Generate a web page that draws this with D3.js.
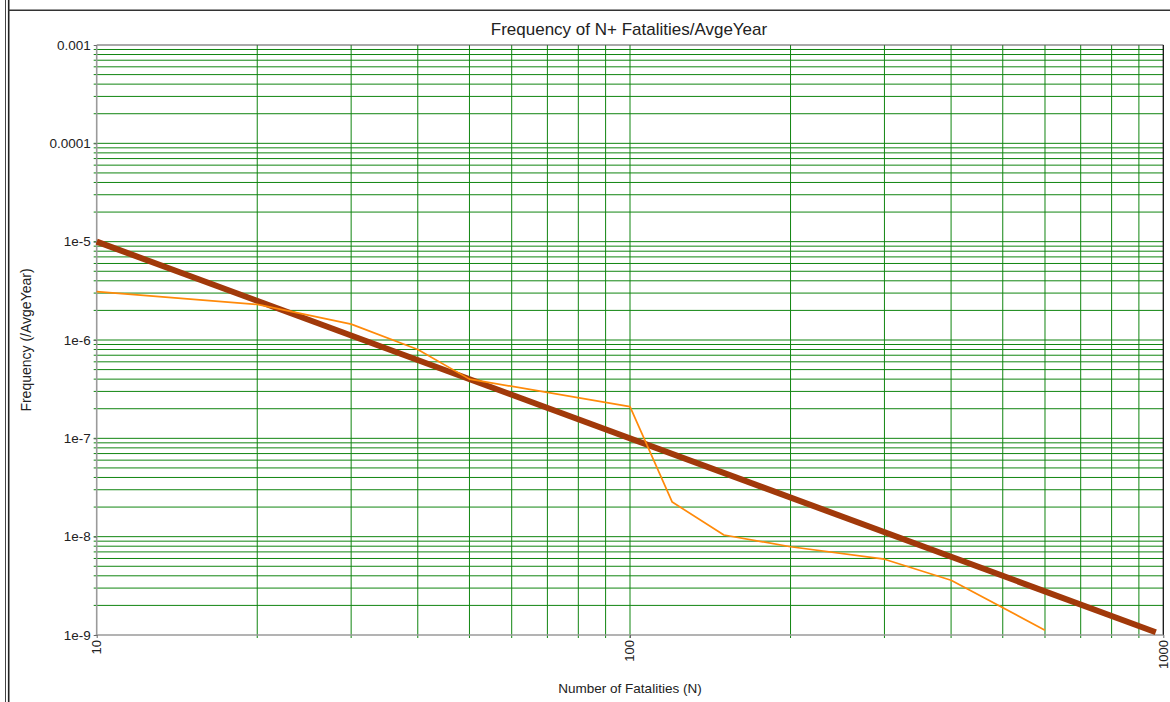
<!DOCTYPE html>
<html>
<head>
<meta charset="utf-8">
<script src="https://cdnjs.cloudflare.com/ajax/libs/d3/7.8.5/d3.min.js"></script>
<style>
  html, body { margin: 0; padding: 0; background: #fff; }
  svg { display: block; font-family: "Liberation Sans", Arial, sans-serif; }
</style>
</head>
<body>
<svg id="chart" width="1170" height="702"></svg>
<script>
// F-N curve: cumulative frequency of N or more fatalities per average year
const fnN    = [10, 20, 30, 40, 50, 100, 120, 150, 200, 300, 400, 600];
const fnFreq = [3.1e-6, 2.3e-6, 1.45e-6, 8e-7, 4e-7, 2.1e-7, 2.25e-8, 1.04e-8, 7.9e-9, 5.9e-9, 3.6e-9, 1.12e-9];

// Criterion line (slope -2 on log-log axes)
const critN    = [10, 968];
const critFreq = [1e-5, 1.067e-9];

// Axis tick values and labels
const xTickValues = [10, 100, 1000];
const xTickLabels = ["10", "100", "1000"];
const yTickValues = [1e-3, 1e-4, 1e-5, 1e-6, 1e-7, 1e-8, 1e-9];
const yTickLabels = ["0.001", "0.0001", "1e-5", "1e-6", "1e-7", "1e-8", "1e-9"];

const titleText  = "Frequency of N+ Fatalities/AvgeYear";
const xTitleText = "Number of Fatalities (N)";
const yTitleText = "Frequency (/AvgeYear)";

(function () {
  const svg = d3.select("#chart");
  const W = 1170, H = 702;
  const plotL = 96.7, plotR = 1163.3, plotT = 45, plotB = 635;

  const x = d3.scaleLog().domain([10, 1000]).range([plotL, plotR]);
  const y = d3.scaleLog().domain([1e-9, 1e-3]).range([plotB, plotT]);

  // window-style frame
  const frame = svg.append("g");
  frame.append("line").attr("x1", 5.5).attr("x2", 5.5).attr("y1", 0).attr("y2", H)
    .attr("stroke", "#444").attr("stroke-width", 1);
  frame.append("line").attr("x1", 8.7).attr("x2", 8.7).attr("y1", 0).attr("y2", H)
    .attr("stroke", "#222").attr("stroke-width", 1.6);
  frame.append("line").attr("x1", 8).attr("x2", W).attr("y1", 10.3).attr("y2", 10.3)
    .attr("stroke", "#333").attr("stroke-width", 1.4);

  // grid: every 1..9 multiple of each decade
  const tickLen = 3;
  const grid = svg.append("g");
  grid.selectAll("line.h")
    .data(y.ticks().filter(v => v > 1e-9 * 1.0001 && v < 1e-3 * 0.9999))
    .join("line").attr("class", "h")
    .attr("x1", plotL - tickLen).attr("x2", plotR)
    .attr("y1", d => y(d)).attr("y2", d => y(d))
    .attr("stroke", "#108510").attr("stroke-width", 1);
  grid.selectAll("line.v")
    .data(x.ticks().filter(v => v > 10 * 1.0001 && v < 1000 * 0.9999))
    .join("line").attr("class", "v")
    .attr("x1", d => x(d)).attr("x2", d => x(d))
    .attr("y1", plotT).attr("y2", plotB + tickLen)
    .attr("stroke", "#108510").attr("stroke-width", 1);

  // plot borders
  svg.append("line").attr("x1", plotL).attr("x2", plotR).attr("y1", plotT).attr("y2", plotT)
    .attr("stroke", "#555").attr("stroke-width", 1.2);
  svg.append("line").attr("x1", plotR).attr("x2", plotR).attr("y1", plotT).attr("y2", plotB)
    .attr("stroke", "#111").attr("stroke-width", 1.3);
  svg.append("line").attr("x1", plotL).attr("x2", plotL).attr("y1", plotT).attr("y2", plotB + 1)
    .attr("stroke", "#9a9a9a").attr("stroke-width", 1.6);
  svg.append("line").attr("x1", plotL - 1).attr("x2", plotR).attr("y1", plotB).attr("y2", plotB)
    .attr("stroke", "#9a9a9a").attr("stroke-width", 1.6);

  // y axis labels
  const yAxis = d3.axisLeft(y)
    .tickValues(yTickValues)
    .tickFormat((d, i) => yTickLabels[i])
    .tickSize(tickLen).tickSizeOuter(0).tickPadding(3);
  const yg = svg.append("g").attr("transform", `translate(${plotL},0)`).call(yAxis);
  yg.select(".domain").remove();
  yg.selectAll(".tick line").attr("stroke", "#666");
  yg.selectAll(".tick text").attr("fill", "#222")
    .style("font-size", "13.5px").style("font-family", "'Liberation Sans', Arial, sans-serif");

  // x axis labels, rotated
  const xAxis = d3.axisBottom(x)
    .tickValues(xTickValues)
    .tickFormat((d, i) => xTickLabels[i])
    .tickSize(tickLen).tickSizeOuter(0);
  const xg = svg.append("g").attr("transform", `translate(0,${plotB})`).call(xAxis);
  xg.select(".domain").remove();
  xg.selectAll(".tick line").attr("stroke", "#666");
  xg.selectAll(".tick text")
    .attr("fill", "#222")
    .attr("transform", "rotate(-90)")
    .attr("text-anchor", "end")
    .attr("x", -5).attr("y", 0).attr("dy", "0.3em")
    .style("font-size", "13px").style("font-family", "'Liberation Sans', Arial, sans-serif");

  // series
  const line = d3.line().x(d => x(d[0])).y(d => y(d[1]));
  svg.append("path")
    .datum(critN.map((n, i) => [n, critFreq[i]]))
    .attr("d", line).attr("fill", "none")
    .attr("stroke", "#a1390a").attr("stroke-width", 6);
  svg.append("path")
    .datum(fnN.map((n, i) => [n, fnFreq[i]]))
    .attr("d", line).attr("fill", "none")
    .attr("stroke", "#ff8a0a").attr("stroke-width", 1.7)
    .attr("stroke-linejoin", "round");

  // titles
  svg.append("text").attr("x", (plotL + plotR) / 2 - 1).attr("y", 35)
    .attr("text-anchor", "middle").attr("fill", "#222")
    .style("font-size", "17px").text(titleText);
  svg.append("text").attr("x", (plotL + plotR) / 2).attr("y", 693)
    .attr("text-anchor", "middle").attr("fill", "#222")
    .style("font-size", "13.5px").text(xTitleText);
  svg.append("text")
    .attr("transform", `translate(31,${(plotT + plotB) / 2}) rotate(-90)`)
    .attr("text-anchor", "middle").attr("fill", "#222")
    .style("font-size", "14px").text(yTitleText);
})();
</script>
</body>
</html>
